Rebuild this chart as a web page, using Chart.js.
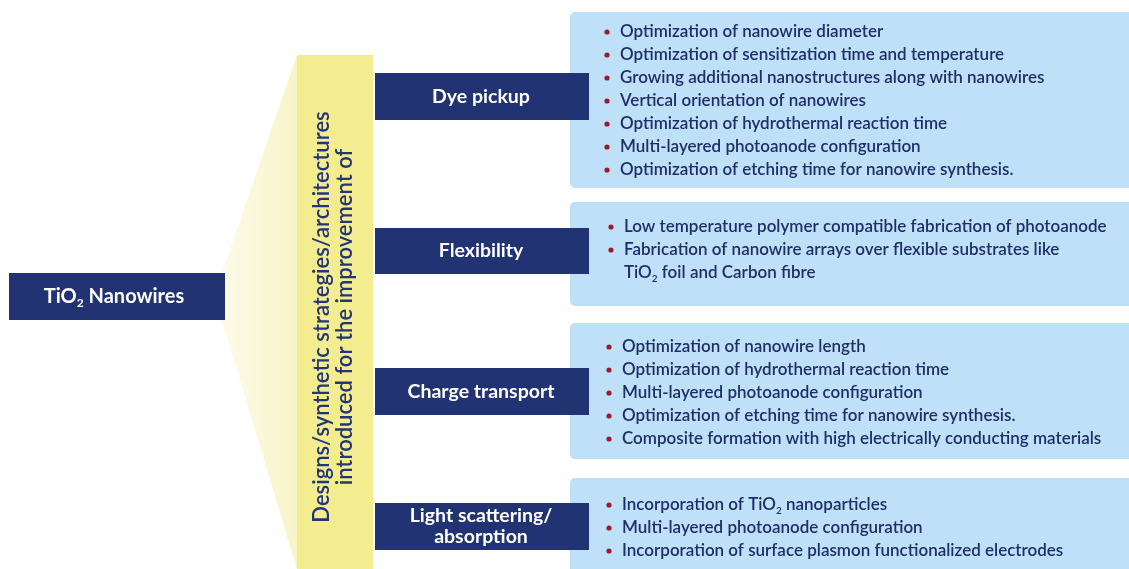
<!DOCTYPE html>
<html>
<head>
<meta charset="utf-8">
<script src="https://cdn.jsdelivr.net/npm/chart.js@4"></script>
<style>
  html, body { margin: 0; padding: 0; background: #fff; }
  #wrap { width: 1129px; height: 569px; position: relative; }
</style>
</head>
<body>
<div id="wrap"><canvas id="diagram"></canvas></div>
<script>
// text content of the diagram ("_2" marks a subscript 2)
const rootLabel = 'TiO_2 Nanowires'
const bandLines = ['Designs/synthetic strategies/architectures', 'introduced for the improvement of']
const categories = ['Dye pickup', 'Flexibility', 'Charge transport', 'Light scattering/\nabsorption']

const dyeItems = [
  'Optimization of nanowire diameter',
  'Optimization of sensitization time and temperature',
  'Growing additional nanostructures along with nanowires',
  'Vertical orientation of nanowires',
  'Optimization of hydrothermal reaction time',
  'Multi-layered photoanode configuration',
  'Optimization of etching time for nanowire synthesis.',
]
const flexItems = [
  'Low temperature polymer compatible fabrication of photoanode',
  'Fabrication of nanowire arrays over flexible substrates like\nTiO_2 foil and Carbon fibre',
]
const chargeItems = [
  'Optimization of nanowire length',
  'Optimization of hydrothermal reaction time',
  'Multi-layered photoanode configuration',
  'Optimization of etching time for nanowire synthesis.',
  'Composite formation with high electrically conducting materials',
]
const lightItems = [
  'Incorporation of TiO_2 nanoparticles',
  'Multi-layered photoanode configuration',
  'Incorporation of surface plasmon functionalized electrodes',
]
const itemLists = [dyeItems, flexItems, chargeItems, lightItems]

// layout, in units of the hidden x (0..1129) and y (0..569) scales
const rootBox = { x0: 9, x1: 225, y0: 273, y1: 320 }
const band = { x0: 297, x1: 373, y0: 55, y1: 575 }
const catX = [375, 589]
const catY = [[73, 120], [228, 274], [368, 415], [503, 550]]
const panelX = [570, 1140]
const panelY = [[12, 188], [202, 306], [323, 459], [478, 590]]
const firstLine = [32, 227, 347, 505]
const lineGap = 23
const textX = [620, 624, 622, 622]

const NAVY = '#213372'
const TEXT_NAVY = '#1f2d68'
const PANEL = '#bee1f7'
const BAND = '#f3ed8f'
const DOT = '#9b1b2a'
const FONT = 'Lato, "Open Sans", sans-serif'

function richParts(str) {
  return str.split(/(_\d)/).filter(s => s.length)
}

function drawRich(ctx, str, x, y, size, weight, align) {
  const parts = richParts(str)
  const big = weight + ' ' + size + 'px ' + FONT
  const small = weight + ' ' + Math.round(size * 0.6) + 'px ' + FONT
  let w = 0
  parts.forEach(p => {
    ctx.font = p[0] === '_' ? small : big
    w += ctx.measureText(p[0] === '_' ? p.slice(1) : p).width
  })
  let cx = align === 'center' ? x - w / 2 : x
  ctx.textAlign = 'left'
  parts.forEach(p => {
    if (p[0] === '_') {
      ctx.font = small
      ctx.fillText(p.slice(1), cx, y + size * 0.35)
      cx += ctx.measureText(p.slice(1)).width
    } else {
      ctx.font = big
      ctx.fillText(p, cx, y)
      cx += ctx.measureText(p).width
    }
  })
}

function roundRect(ctx, x, y, w, h, r) {
  ctx.beginPath()
  ctx.roundRect(x, y, w, h, r)
  ctx.fill()
}

const diagramPlugin = {
  id: 'diagram',
  beforeDatasetsDraw(chart) {
    const ctx = chart.ctx
    const px = v => chart.scales.x.getPixelForValue(v)
    const py = v => chart.scales.y.getPixelForValue(v)
    ctx.save()
    ctx.textBaseline = 'middle'

    // fan from the root box to the yellow band
    const g = ctx.createLinearGradient(px(rootBox.x1), 0, px(band.x0), 0)
    g.addColorStop(0, '#fcfbe6')
    g.addColorStop(1, '#f8f4c9')
    ctx.fillStyle = g
    ctx.beginPath()
    ctx.moveTo(px(rootBox.x1 - 3), py(rootBox.y0))
    ctx.lineTo(px(band.x0), py(band.y0))
    ctx.lineTo(px(band.x0), py(569))
    ctx.lineTo(px(rootBox.x1 - 3), py(rootBox.y1))
    ctx.closePath()
    ctx.fill()

    // root box
    ctx.fillStyle = NAVY
    ctx.fillRect(px(rootBox.x0), py(rootBox.y0), px(rootBox.x1) - px(rootBox.x0), py(rootBox.y1) - py(rootBox.y0))
    ctx.fillStyle = '#ffffff'
    drawRich(ctx, rootLabel, px((rootBox.x0 + rootBox.x1) / 2 - 3), py((rootBox.y0 + rootBox.y1) / 2), 20, 'bold', 'center')

    // yellow band with rotated caption
    ctx.fillStyle = BAND
    ctx.fillRect(px(band.x0), py(band.y0), px(band.x1) - px(band.x0), py(band.y1) - py(band.y0))
    ctx.save()
    ctx.translate(px(333), py(317))
    ctx.rotate(-Math.PI / 2)
    ctx.fillStyle = '#233579'
    ctx.font = '600 22px ' + FONT
    ctx.textAlign = 'center'
    ctx.fillText(bandLines[0], 0, -11)
    ctx.fillText(bandLines[1], 0, 12)
    ctx.restore()

    // panels with bullet lists
    itemLists.forEach((items, i) => {
      ctx.fillStyle = PANEL
      roundRect(ctx, px(panelX[0]), py(panelY[i][0]), px(panelX[1]) - px(panelX[0]), py(panelY[i][1]) - py(panelY[i][0]), 5)
      let line = 0
      items.forEach(item => {
        item.split('\n').forEach((seg, k) => {
          const y = py(firstLine[i] + line * lineGap)
          if (k === 0) {
            ctx.fillStyle = DOT
            ctx.beginPath()
            ctx.arc(px(textX[i] - 13), y, 2.6, 0, Math.PI * 2)
            ctx.fill()
          }
          ctx.fillStyle = TEXT_NAVY
          drawRich(ctx, seg, px(textX[i]), y, 17, '600', 'left')
          line++
        })
      })
    })

    // category boxes
    categories.forEach((c, i) => {
      ctx.fillStyle = NAVY
      ctx.fillRect(px(catX[0]), py(catY[i][0]), px(catX[1]) - px(catX[0]), py(catY[i][1]) - py(catY[i][0]))
      ctx.fillStyle = '#ffffff'
      const lines = c.split('\n')
      const mid = (catY[i][0] + catY[i][1]) / 2
      lines.forEach((l, k) => {
        const y = mid + (k - (lines.length - 1) / 2) * 21
        drawRich(ctx, l, px(481), py(y), 19.5, 'bold', 'center')
      })
    })
    ctx.restore()
  }
}

new Chart(document.getElementById('diagram').getContext('2d'), {
  type: 'scatter',
  data: { datasets: [] },
  options: {
    responsive: true,
    maintainAspectRatio: false,
    animation: false,
    layout: { padding: 0 },
    plugins: { legend: { display: false }, tooltip: { enabled: false } },
    scales: {
      x: { type: 'linear', min: 0, max: 1129, display: false },
      y: { type: 'linear', min: 0, max: 569, reverse: true, display: false },
    },
  },
  plugins: [diagramPlugin],
})
</script>
</body>
</html>
